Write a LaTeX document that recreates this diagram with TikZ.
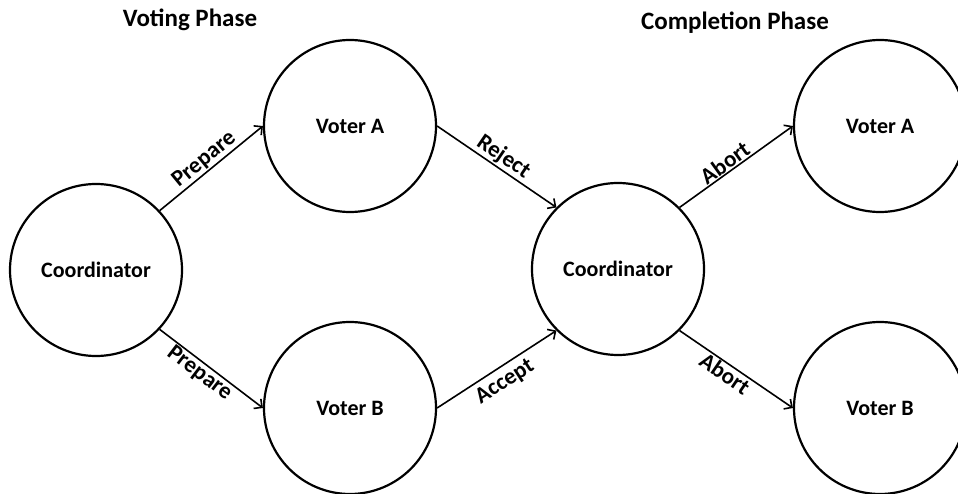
\documentclass[tikz,border=0pt]{standalone}
\usepackage{fontspec}
\setmainfont{Carlito}
\usetikzlibrary{arrows.meta}
\begin{document}
\begin{tikzpicture}[x=1pt,y=-1pt,
  state/.style={circle,draw,line width=2.2pt,minimum size=172pt,inner sep=0pt,
    font=\fontsize{22}{26}\selectfont\bfseries},
  msg/.style={line width=1.6pt,-{Straight Barb[length=6pt,width=12pt,line width=1.6pt]}},
  lbl/.style={font=\fontsize{23}{27}\selectfont\bfseries,sloped,inner sep=1pt},
  phase/.style={font=\fontsize{25}{30}\selectfont\bfseries}]
\useasboundingbox (0,0) rectangle (958,494);
\node[phase] (t1) at (190,20) {Voting Phase};
\node[phase] (t2) at (735,23) {Completion Phase};
\node[state] (lc) at (96,270) {Coordinator};
\node[state] (va) at (350,126) {Voter A};
\node[state] (vb) at (350,408) {Voter B};
\node[state] (mc) at (618,269) {Coordinator};
\node[state] (ra) at (880,126) {Voter A};
\node[state] (rb) at (880,408) {Voter B};
\draw[msg] (lc.43) -- node[lbl,above] {Prepare} (va.180);
\draw[msg] (lc.-43) -- node[lbl,below,pos=0.45] {Prepare} (vb.180);
\draw[msg] (va.0) -- node[lbl,above] {Reject} (mc.135);
\draw[msg] (vb.0) -- node[lbl,below=4pt,pos=0.5] {Accept} (mc.225);
\draw[msg] (mc.45) -- node[lbl,above,pos=0.45] {Abort} (ra.180);
\draw[msg] (mc.-45) -- node[lbl,below,pos=0.45] {Abort} (rb.180);
\end{tikzpicture}
\end{document}
